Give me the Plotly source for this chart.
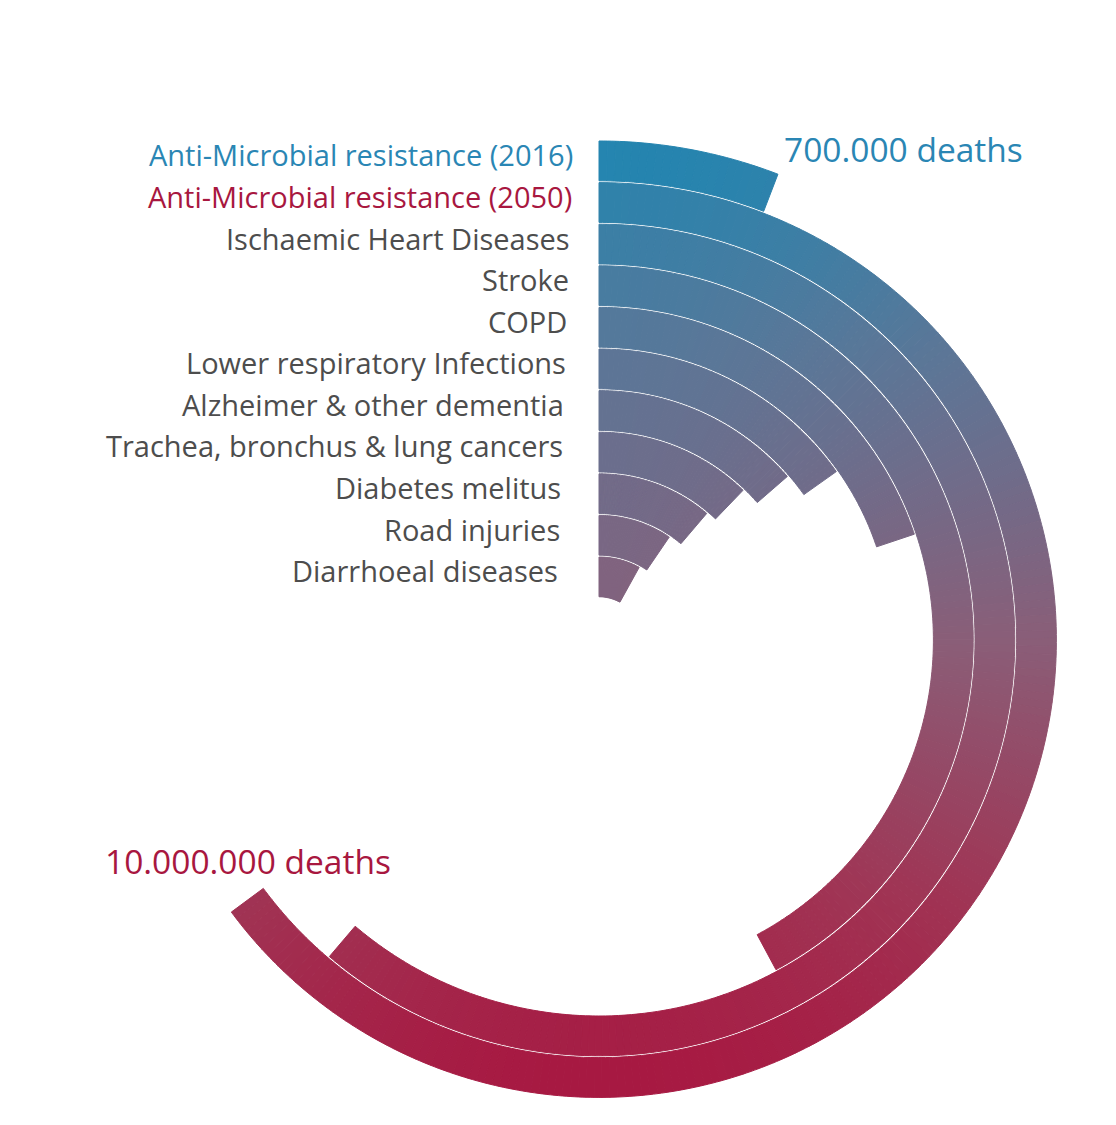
import numpy as np
import plotly.graph_objects as go

# causes of death, outermost ring first
causes = ["Anti-Microbial resistance (2016)", "Anti-Microbial resistance (2050)",
          "Ischaemic Heart Diseases", "Stroke", "COPD", "Lower respiratory Infections",
          "Alzheimer & other dementia", "Trachea, bronchus & lung cancers",
          "Diabetes melitus", "Road injuries", "Diarrhoeal diseases"]
# deaths per year in millions
deaths = [0.9, 10.0, 9.44, 6.5, 3.06, 2.34, 2.1, 1.88, 1.73, 1.47, 1.24]
label_colors = ["#2a86b4", "#a8173f"] + ["#4d4d4d"] * 9
value_labels = ["700.000 deaths", "10.000.000 deaths"]
value_colors = ["#2a86b4", "#a8173f"]

OFF = 8                # page body margin, the figure starts at (8, 8)
W, H = 1116, 1141
CX, CY = 599 - OFF, 640 - OFF   # centre of the rings in figure px
RMAX = H - CY          # biggest radius the polar area can get
OUTER = 499            # outer edge of the outermost ring
STEP = 41.6            # ring spacing
THICK = 39.8           # ring thickness (rest is the white gap)
DEG_PER_M = 23.35      # degrees of arc per million deaths

# vertical colour gradient, by page pixel row
grad_y = [141, 350, 640, 900, 1097]
grad_rgb = [(31, 134, 178), (90, 119, 152), (138, 94, 120), (160, 52, 84), (168, 22, 64)]


def grad(y):
    y = min(max(y, grad_y[0]), grad_y[-1])
    rgb = [int(round(np.interp(y, grad_y, [c[k] for c in grad_rgb]))) for k in range(3)]
    return "rgb(%d,%d,%d)" % tuple(rgb)


def to_px(r, deg):
    # polar (clockwise from top) -> figure px
    return CX + r * np.sin(np.radians(deg)), CY - r * np.cos(np.radians(deg))


fig = go.Figure()

# each ring is cut in 1 degree slices so the gradient can follow the page
for i, (name, val) in enumerate(zip(causes, deaths)):
    ang = val * DEG_PER_M
    n = int(np.ceil(ang))
    edges = np.linspace(0, ang, n + 1)
    centers = (edges[:-1] + edges[1:]) / 2
    widths = np.diff(edges)
    inner = OUTER - STEP * i - THICK
    rmid = inner + THICK / 2
    cols = [grad(to_px(rmid, c)[1] + OFF) for c in centers]
    fig.add_trace(go.Barpolar(
        r=[THICK] * n, base=[inner] * n, theta=centers, width=widths,
        marker=dict(color=cols, line=dict(color=cols, width=1)),
        name=name, hoverinfo="skip"))

annotations = []
for i, (name, col) in enumerate(zip(causes, label_colors)):
    ypx = CY - (OUTER - STEP * i - STEP / 2) - 7
    annotations.append(dict(
        text=name, x=(567 - 1.5 * i) / W, y=1 - ypx / H, xref="paper", yref="paper",
        xanchor="right", yanchor="middle", showarrow=False,
        font=dict(family="Open Sans", size=29, color=col)))

# value labels next to the ends of the two AMR rings
x0, y0 = to_px(OUTER, deaths[0] * DEG_PER_M)
x1, y1 = to_px(OUTER - STEP * 1.5, deaths[1] * DEG_PER_M)
annotations.append(dict(
    text=value_labels[0], x=(x0 + 4) / W, y=1 - (y0 - 25) / H, xref="paper", yref="paper",
    xanchor="left", yanchor="middle", showarrow=False,
    font=dict(family="Open Sans", size=33.5, color=value_colors[0])))
annotations.append(dict(
    text=value_labels[1], x=x1 / W, y=1 - (y1 - 39) / H, xref="paper", yref="paper",
    xanchor="center", yanchor="middle", showarrow=False,
    font=dict(family="Open Sans", size=33.5, color=value_colors[1])))

fig.update_layout(
    width=W, height=H,
    margin=dict(l=0, r=0, t=0, b=0),
    paper_bgcolor="white",
    showlegend=False,
    annotations=annotations,
    polar=dict(
        domain=dict(x=[(CX - RMAX) / W, (CX + RMAX) / W], y=[0, 2 * RMAX / H]),
        bgcolor="white",
        barmode="overlay",
        radialaxis=dict(range=[0, RMAX], visible=False),
        angularaxis=dict(visible=False, direction="clockwise", rotation=90),
    ),
)

fig.write_html("out.html")
